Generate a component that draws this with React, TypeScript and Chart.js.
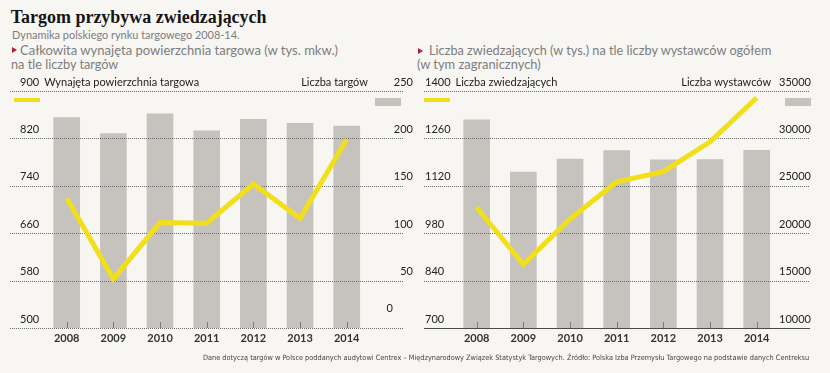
import React, { useEffect, useLayoutEffect, useRef } from 'react';
import { Chart, registerables } from 'chart.js';

Chart.register(...registerables);

// ---------- data ----------
const years = [2008, 2009, 2010, 2011, 2012, 2013, 2014];
// Left panel: rented exhibition area (thousand m2) and number of fairs
const rentedArea = [719, 583, 678, 677, 743, 685, 818];
const fairsCount = [222, 205, 226, 208, 220, 216, 213];
const areaTicks = [500, 580, 660, 740, 820, 900];
const fairsTicks = [0, 50, 100, 150, 200, 250];
// Right panel: visitors (thousands) and exhibitors
const visitors = [1056, 888, 1022, 1132, 1162, 1250, 1380];
const exhibitors = [31950, 26460, 27830, 28710, 27730, 27760, 28750];
const visitorTicks = [700, 840, 980, 1120, 1260, 1400];
const exhibitorTicks = [10000, 15000, 20000, 25000, 30000, 35000];

const YELLOW = '#f2df1b';
const GRAY = '#c6c2bd';
const BG = '#f7f6f2';
const FONT = 'Lato, "Open Sans", sans-serif';

type PanelCfg = {
  line: number[];
  bars: number[];
  lTicks: number[];
  rTicks: number[];
  xMin: number;
  xMax: number;
  padLeft: number;
  padRight: number;
  lLabelPad: number;
  rLabelPad: number;
  lName: string;
  rName: string;
  bottomSolid: boolean;
  raiseZero: boolean;
  yellowOffset: number;
  grayOffset: number;
};

function makeChart(canvas: HTMLCanvasElement, p: PanelCfg) {
  const decor = {
    id: 'decor',
    afterDatasetDraw(chart: any, args: any) {
      if (args.index !== 1) return;
      const ctx = chart.ctx as CanvasRenderingContext2D;
      const { left, right, bottom } = chart.chartArea;
      const ys = chart.scales.y;
      const xs = chart.scales.x;
      ctx.save();
      ctx.lineWidth = 1;
      p.lTicks.forEach((v) => {
        const py = Math.round(ys.getPixelForValue(v)) + 0.5;
        const solid = p.bottomSolid && v === p.lTicks[0];
        ctx.setLineDash(solid ? [] : [1, 1]);
        ctx.strokeStyle = solid ? '#4a4a4a' : '#6a6a6a';
        ctx.beginPath();
        ctx.moveTo(left, py);
        ctx.lineTo(right, py);
        ctx.stroke();
      });
      ctx.setLineDash([]);
      ctx.strokeStyle = '#7a7a7a';
      years.forEach((yr) => {
        const px = Math.round(xs.getPixelForValue(yr)) + 0.5;
        ctx.beginPath();
        ctx.moveTo(px, bottom - 6);
        ctx.lineTo(px, bottom);
        ctx.stroke();
      });
      ctx.restore();
    },
    afterDraw(chart: any) {
      const ctx = chart.ctx as CanvasRenderingContext2D;
      const { left, right, top } = chart.chartArea;
      const y1 = chart.scales.y1;
      ctx.save();
      ctx.font = `11px ${FONT}`;
      ctx.fillStyle = '#222';
      ctx.textBaseline = 'middle';
      const ty = top - 9;
      const lTop = String(p.lTicks[p.lTicks.length - 1]);
      const rTop = String(p.rTicks[p.rTicks.length - 1]);
      ctx.textAlign = 'left';
      ctx.fillText(p.lName, left + p.lLabelPad + ctx.measureText(lTop).width + 5, ty);
      ctx.textAlign = 'right';
      ctx.fillText(p.rName, right - p.rLabelPad - ctx.measureText(rTop).width - 6, ty);
      if (p.raiseZero) {
        ctx.textAlign = 'right';
        const zy = y1.getPixelForValue(0) - 20;
        ctx.fillText('0', right - p.rLabelPad, zy);
      }
      // legend swatches
      ctx.fillStyle = YELLOW;
      ctx.fillRect(left + p.yellowOffset, top + 7, 26, 4);
      ctx.fillStyle = GRAY;
      ctx.fillRect(right - 26 + p.grayOffset, top + 7, 26, 8);
      ctx.restore();
    },
  };

  const tickFont = { family: FONT, size: 11 };
  return new Chart(canvas, {
    type: 'bar',
    data: {
      datasets: [
        {
          type: 'line',
          data: years.map((x, i) => ({ x, y: p.line[i] })),
          yAxisID: 'y',
          borderColor: YELLOW,
          borderWidth: 5,
          pointRadius: 0,
          tension: 0,
          fill: false,
        } as any,
        {
          type: 'bar',
          data: years.map((x, i) => ({ x, y: p.bars[i] })),
          yAxisID: 'y1',
          backgroundColor: GRAY,
          barThickness: 26,
        },
      ],
    },
    options: {
      animation: false,
      responsive: false,
      maintainAspectRatio: false,
      layout: { padding: { left: p.padLeft, right: p.padRight, top: 91, bottom: 15 } },
      plugins: { legend: { display: false }, tooltip: { enabled: false } },
      scales: {
        x: {
          type: 'linear',
          offset: false,
          min: p.xMin,
          max: p.xMax,
          afterBuildTicks: (s: any) => {
            s.ticks = years.map((v) => ({ value: v }));
          },
          afterFit: (s: any) => {
            s.height = 30;
          },
          grid: { display: false, drawTicks: false, offset: false },
          border: { display: false },
          ticks: {
            padding: 4,
            color: '#333',
            font: { family: FONT, size: 11, weight: 'bold' },
            callback: (v: any) => String(v),
          },
        },
        y: {
          position: 'left',
          min: p.lTicks[0],
          max: p.lTicks[p.lTicks.length - 1],
          afterBuildTicks: (s: any) => {
            s.ticks = p.lTicks.map((v) => ({ value: v }));
          },
          afterFit: (s: any) => {
            s.width = 0;
          },
          grid: { display: false, drawTicks: false },
          border: { display: false },
          ticks: {
            mirror: true,
            padding: p.lLabelPad,
            labelOffset: -9,
            color: '#222',
            font: tickFont,
            callback: (v: any) => String(v),
          },
        },
        y1: {
          position: 'right',
          min: p.rTicks[0],
          max: p.rTicks[p.rTicks.length - 1],
          afterBuildTicks: (s: any) => {
            s.ticks = p.rTicks.map((v) => ({ value: v }));
          },
          afterFit: (s: any) => {
            s.width = 0;
          },
          grid: { display: false, drawTicks: false },
          border: { display: false },
          ticks: {
            mirror: true,
            padding: p.rLabelPad,
            labelOffset: -9,
            color: '#222',
            font: tickFont,
            callback: (v: any) => (p.raiseZero && v === 0 ? '' : String(v)),
          },
        },
      },
    } as any,
    plugins: [decor],
  });
}

const leftCfg: PanelCfg = {
  line: rentedArea,
  bars: fairsCount,
  lTicks: areaTicks,
  rTicks: fairsTicks,
  xMin: 2006.785,
  xMax: 2015.206,
  padLeft: 10,
  padRight: 12,
  lLabelPad: 10,
  rLabelPad: 10,
  lName: 'Wynajęta powierzchnia targowa',
  rName: 'Liczba targów',
  bottomSolid: false,
  raiseZero: true,
  yellowOffset: 4,
  grayOffset: -2,
};

const rightCfg: PanelCfg = {
  line: visitors,
  bars: exhibitors,
  lTicks: visitorTicks,
  rTicks: exhibitorTicks,
  xMin: 2006.871,
  xMax: 2015.142,
  padLeft: 9,
  padRight: 20,
  lLabelPad: 1,
  rLabelPad: 1,
  lName: 'Liczba zwiedzających',
  rName: 'Liczba wystawców',
  bottomSolid: true,
  raiseZero: false,
  yellowOffset: 0,
  grayOffset: 1,
};

function Panel({ cfg, x }: { cfg: PanelCfg; x: number }) {
  const ref = useRef<HTMLCanvasElement | null>(null);
  useEffect(() => {
    if (!ref.current) return;
    const c = makeChart(ref.current, cfg);
    return () => c.destroy();
  }, [cfg]);
  return (
    <canvas
      ref={ref}
      width={415}
      height={373}
      style={{ position: 'absolute', left: x, top: 0, width: 415, height: 373 }}
    />
  );
}

// Text placed with its baseline at `baseline` and made to span `width`
// ('size': via font size, 'hybrid': half via font size, half via horizontal scaling)
function FitText({
  text,
  x,
  baseline,
  width,
  mode,
  style,
}: {
  text: string;
  x: number;
  baseline: number;
  width: number;
  mode: 'size' | 'hybrid';
  style: React.CSSProperties;
}) {
  const box = useRef<HTMLDivElement | null>(null);
  const mark = useRef<HTMLSpanElement | null>(null);
  useLayoutEffect(() => {
    const el = box.current;
    const m = mark.current;
    if (!el || !m) return;
    const fs = style.fontSize as number;
    el.style.transform = 'none';
    el.style.fontSize = `${fs}px`;
    el.style.top = '0px';
    const w = el.getBoundingClientRect().width;
    if (w > 0) {
      const r = width / w;
      if (mode === 'size') {
        el.style.fontSize = `${fs * r}px`;
      } else {
        const k = Math.sqrt(r);
        el.style.fontSize = `${fs * k}px`;
        const w2 = el.getBoundingClientRect().width;
        el.style.transform = `scaleX(${width / w2})`;
      }
    }
    const parentTop = (el.offsetParent as HTMLElement).getBoundingClientRect().top;
    const by = m.getBoundingClientRect().top - parentTop;
    el.style.top = `${baseline - by}px`;
  }, [text, width, baseline, mode]);
  return (
    <div
      ref={box}
      style={{
        position: 'absolute',
        left: x,
        top: 0,
        whiteSpace: 'nowrap',
        lineHeight: 'normal',
        transformOrigin: '0 0',
        ...style,
      }}
    >
      {text}
      <span style={{ display: 'inline-block', width: 0, height: 0, verticalAlign: 'baseline' }} ref={mark} />
    </div>
  );
}

const tri: React.CSSProperties = {
  position: 'absolute',
  width: 0,
  height: 0,
  borderTop: '3.5px solid transparent',
  borderBottom: '3.5px solid transparent',
  borderLeft: '5px solid #b3203c',
};

const sub: React.CSSProperties = {
  fontFamily: FONT,
  fontSize: 12.5,
  color: '#7d7d7d',
};

export default function App() {
  useEffect(() => {
    document.body.style.margin = '0';
    document.body.style.background = BG;
  }, []);
  return (
    <div style={{ position: 'relative', width: 830, height: 373, background: BG, overflow: 'hidden' }}>
      <FitText
        text="Targom przybywa zwiedzających"
        x={10.7}
        baseline={22.7}
        width={256}
        mode="size"
        style={{
          fontFamily: '"Liberation Serif", "DejaVu Serif", serif',
          fontWeight: 'bold',
          fontSize: 18,
          color: '#151515',
        }}
      />
      <FitText
        text="Dynamika polskiego rynku targowego 2008-14."
        x={11.7}
        baseline={39}
        width={227.6}
        mode="hybrid"
        style={sub}
      />
      <div style={{ ...tri, left: 11.7, top: 46.5 }} />
      <FitText
        text="Całkowita wynajęta powierzchnia targowa (w tys. mkw.)"
        x={20}
        baseline={55}
        width={318}
        mode="hybrid"
        style={sub}
      />
      <FitText text="na tle liczby targów" x={11} baseline={68.5} width={107.3} mode="hybrid" style={sub} />
      <div style={{ ...tri, left: 418.3, top: 47.5 }} />
      <FitText
        text="Liczba zwiedzających (w tys.) na tle liczby wystawców ogółem"
        x={429.3}
        baseline={55.3}
        width={342.4}
        mode="hybrid"
        style={sub}
      />
      <FitText text="(w tym zagranicznych)" x={417.3} baseline={68.7} width={123.7} mode="hybrid" style={sub} />
      <Panel cfg={leftCfg} x={0} />
      <Panel cfg={rightCfg} x={415} />
      <FitText
        text="Dane dotyczą targów w Polsce poddanych audytowi Centrex – Międzynarodowy Związek Statystyk Targowych. Źródło: Polska Izba Przemysłu Targowego na podstawie danych Centreksu"
        x={203}
        baseline={360}
        width={607}
        mode="size"
        style={{
          fontFamily: '"Liberation Sans Narrow", "DejaVu Sans Condensed", sans-serif',
          fontSize: 9.5,
          color: '#444',
        }}
      />
    </div>
  );
}
